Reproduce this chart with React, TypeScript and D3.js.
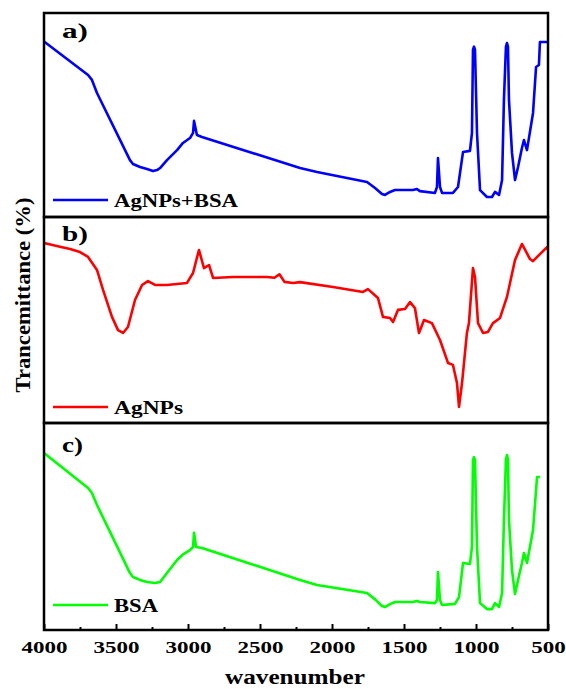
import { useEffect, useRef } from "react";
import * as d3 from "d3";

// wavenumber (cm-1) and transmittance (arbitrary %, panel-relative)
const agBsaWave = [4000, 3694, 3667, 3632, 3403, 3382, 3333, 3285, 3243, 3215, 3194, 3146, 3076, 3035, 2986, 2965, 2958, 2938, 2903, 2222, 2104, 1757, 1701, 1653, 1632, 1597, 1563, 1438, 1410, 1389, 1285, 1271, 1264, 1250, 1236, 1160, 1125, 1090, 1042, 1028, 1021, 1014, 1007, 993, 972, 924, 889, 868, 840, 819, 806, 792, 785, 778, 771, 750, 729, 708, 681, 667, 646, 604, 583, 563, 556, 507];
const agBsaT = [86, 69.6, 67.2, 60.8, 27.9, 26.0, 24.5, 23.5, 22.5, 23.0, 24.0, 27.9, 32.8, 36.3, 38.7, 41.2, 47.1, 40.2, 39.2, 24.0, 22.1, 17.2, 14.2, 11.3, 10.8, 12.3, 13.2, 13.2, 13.7, 12.7, 11.8, 14.7, 28.9, 14.7, 11.8, 11.8, 14.7, 31.9, 32.4, 41.2, 82.0, 83.5, 82.0, 41.2, 13.2, 9.8, 9.8, 12.3, 10.8, 18.1, 57.4, 83.5, 85.3, 83.5, 57.4, 31.4, 18.1, 24.5, 33.8, 37.7, 32.8, 51.0, 73.5, 74.5, 85.8, 85.8];

const agWave = [4000, 3889, 3819, 3750, 3694, 3632, 3590, 3528, 3486, 3451, 3417, 3368, 3319, 3278, 3229, 3146, 3007, 2965, 2924, 2889, 2854, 2826, 2688, 2451, 2400, 2365, 2330, 2271, 2222, 1993, 1785, 1750, 1681, 1646, 1597, 1576, 1542, 1493, 1458, 1424, 1396, 1361, 1306, 1250, 1194, 1160, 1132, 1118, 1097, 1063, 1049, 1021, 1007, 986, 951, 917, 882, 833, 785, 729, 681, 625, 604, 507, 500];
const agT = [87.4, 85.6, 84.5, 83.0, 80.6, 74.3, 64.6, 51.5, 45.1, 43.7, 46.6, 59.7, 67.0, 68.9, 67.0, 67.0, 68.0, 72.8, 84.0, 75.2, 76.7, 70.4, 70.9, 70.9, 70.5, 72.2, 68.5, 68.0, 68.4, 66.0, 63.6, 65.0, 60.7, 51.5, 51.0, 49.0, 54.9, 55.3, 58.7, 55.8, 43.7, 50.0, 48.5, 40.3, 29.1, 28.2, 19.4, 7.8, 19.4, 43.7, 48.5, 75.2, 70.9, 48.5, 43.7, 44.2, 48.5, 51.0, 61.2, 79.1, 86.9, 79.6, 78.6, 85.4, 84.0];

const bsaWave = [4000, 3694, 3667, 3632, 3403, 3382, 3333, 3285, 3229, 3194, 3146, 3076, 3035, 2986, 2965, 2958, 2944, 2903, 2222, 2104, 1757, 1701, 1653, 1632, 1597, 1563, 1438, 1410, 1389, 1285, 1271, 1264, 1250, 1236, 1146, 1118, 1090, 1042, 1028, 1021, 1014, 1007, 993, 972, 924, 889, 868, 840, 819, 806, 792, 785, 778, 771, 750, 729, 708, 681, 667, 646, 604, 576, 556];
const bsaT = [85.5, 68.6, 66.2, 60.4, 27.5, 25.6, 24.2, 23.2, 22.7, 23.2, 27.5, 33.8, 36.5, 38.6, 40.1, 46.9, 40.1, 39.6, 24.2, 21.7, 17.9, 14.8, 11.6, 11.1, 12.5, 13.5, 13.5, 14.0, 13.5, 13.0, 14.5, 28.0, 14.5, 12.1, 12.6, 15.9, 32.4, 31.9, 40.1, 82.0, 83.5, 82.0, 40.1, 13.0, 10.1, 10.1, 13.0, 11.1, 17.9, 53.1, 82.5, 84.5, 82.5, 53.1, 29.0, 17.4, 24.2, 32.4, 37.2, 32.4, 48.3, 73.9, 73.9];

const panelLabels = ["a)", "b)", "c)"];
const legendNames = ["AgNPs+BSA", "AgNPs", "BSA"];
const majorTicks = [4000, 3500, 3000, 2500, 2000, 1500, 1000, 500];
const minorTicks = [3750, 3250, 2750, 2250, 1750, 1250, 750];

const W = 566;
const H = 689;
const left = 44;
const right = 548;
const panelTop = [13, 217, 423];
const panelBottom = [217, 423, 630];
const labelDrop = [25, 24, 29];
const legendRise = [17, 16, 25];
const legendTextLen = [124, 69, 44];
const colors = ["#0000FF", "#FF0000", "#00FF00"];
const FONT = "'Liberation Serif', 'Times New Roman', serif";

export default function App() {
  const majorRef = useRef<SVGGElement>(null);
  const minorRef = useRef<SVGGElement>(null);

  const x = d3.scaleLinear().domain([4000, 500]).range([left, right]);

  const series = [
    { wave: agBsaWave, t: agBsaT },
    { wave: agWave, t: agT },
    { wave: bsaWave, t: bsaT },
  ];

  useEffect(() => {
    const major = d3.select(majorRef.current);
    major.selectAll("*").remove();
    major
      .call(
        d3
          .axisBottom(x)
          .tickValues(majorTicks)
          .tickSize(-6)
          .tickPadding(11)
          .tickFormat((d) => String(d))
      )
      .call((g) => g.select(".domain").remove());
    major.selectAll(".tick line").attr("stroke", "#000").attr("stroke-width", 2);
    major
      .selectAll<SVGTextElement, number>(".tick text")
      .attr("fill", "#000")
      .attr("font-family", FONT)
      .attr("font-weight", "bold")
      .attr("font-size", 17)
      .attr("textLength", (d) => String(d).length * 11.5)
      .attr("lengthAdjust", "spacingAndGlyphs");

    const minor = d3.select(minorRef.current);
    minor.selectAll("*").remove();
    minor
      .call(d3.axisBottom(x).tickValues(minorTicks).tickSize(-3).tickFormat(() => ""))
      .call((g) => g.select(".domain").remove());
    minor.selectAll(".tick line").attr("stroke", "#000").attr("stroke-width", 2);
  }, []);

  return (
    <svg
      width={W}
      height={H}
      style={{ position: "absolute", left: 0, top: 0, background: "#fff" }}
    >
      {series.map((s, i) => {
        const y = d3.scaleLinear().domain([0, 100]).range([panelBottom[i], panelTop[i]]);
        const line = d3
          .line<number>()
          .x((_, k) => x(s.wave[k]))
          .y((d) => y(d));
        const ly = panelBottom[i] - legendRise[i];
        return (
          <g key={i}>
            <path d={line(s.t) ?? ""} fill="none" stroke={colors[i]} strokeWidth={2.6} strokeLinejoin="round" />
            <rect
              x={left}
              y={panelTop[i]}
              width={right - left}
              height={panelBottom[i] - panelTop[i]}
              fill="none"
              stroke="#000"
              strokeWidth={2.5}
            />
            <text
              x={62}
              y={panelTop[i] + labelDrop[i]}
              fontFamily={FONT}
              fontWeight="bold"
              fontSize={20}
              textLength={i === 2 ? 21 : 26}
              lengthAdjust="spacingAndGlyphs"
            >
              {panelLabels[i]}
            </text>
            <line x1={53} x2={108} y1={ly} y2={ly} stroke={colors[i]} strokeWidth={2.6} />
            <text
              x={114}
              y={ly + 7}
              fontFamily={FONT}
              fontWeight="bold"
              fontSize={18}
              textLength={legendTextLen[i]}
              lengthAdjust="spacingAndGlyphs"
            >
              {legendNames[i]}
            </text>
          </g>
        );
      })}
      <g ref={majorRef} transform={`translate(0,${panelBottom[2]})`} />
      <g ref={minorRef} transform={`translate(0,${panelBottom[2]})`} />
      <text
        transform="translate(30,295) rotate(-90)"
        textAnchor="middle"
        fontFamily={FONT}
        fontWeight="bold"
        fontSize={22}
        textLength={195}
        lengthAdjust="spacingAndGlyphs"
      >
        Trancemittance (%)
      </text>
      <text
        x={295}
        y={684}
        textAnchor="middle"
        fontFamily={FONT}
        fontWeight="bold"
        fontSize={20}
        textLength={140}
        lengthAdjust="spacingAndGlyphs"
      >
        wavenumber
      </text>
    </svg>
  );
}
